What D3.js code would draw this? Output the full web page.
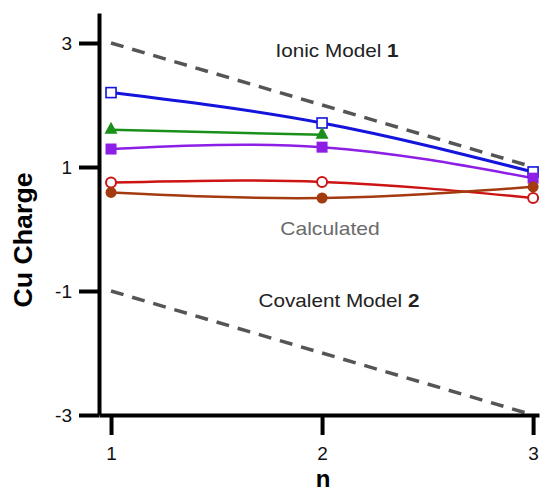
<!DOCTYPE html>
<html>
<head>
<meta charset="utf-8">
<script src="https://cdn.jsdelivr.net/npm/d3@7"></script>
<style>
  body { margin: 0; background: #fff; }
  svg { font-family: "Liberation Sans", Arial, Helvetica, sans-serif; }
</style>
</head>
<body>
<div id="chart"></div>
<script>
// chart values
var nValues = [1, 2, 3];
var blueOpenSq = [2.20, 1.71, 0.92];
var greenTri = [1.60, 1.52, null];
var purpleSq = [1.29, 1.32, 0.82];
var redOpenCirc = [0.75, 0.76, 0.50];
var brownDot = [0.59, 0.50, 0.68];
var ionicModel = [3, 2, 1];
var covalentModel = [-1, -2, -3];
var yTicks = [-3, -1, 1, 3];
var xTicks = [1, 2, 3];

var width = 541, height = 493;

var svg = d3.select("#chart").append("svg")
    .attr("width", width)
    .attr("height", height);

// scales (domain padded so axis lines run past the data)
var x = d3.scaleLinear().domain([0.943, 3.028]).range([99, 539]);
var y = d3.scaleLinear().domain([-3, 3.484]).range([415, 13]);

// model dashed lines
function pts(vals) {
    return nValues.map(function(n, i){ return {n: n, v: vals[i]}; })
        .filter(function(d){ return d.v != null; });
}

var straight = d3.line()
    .x(function(d){ return x(d.n); })
    .y(function(d){ return y(d.v); });

[ionicModel, covalentModel].forEach(function(m) {
    svg.append("path")
        .attr("d", straight(pts(m)))
        .attr("fill", "none")
        .attr("stroke", "#555")
        .attr("stroke-width", 3.5)
        .attr("stroke-dasharray", "13,9");
});

// axes - plain hyphen for negatives like the original
var fmt = function(d){ return String(d); };
var xAxis = svg.append("g")
    .attr("transform", "translate(0," + y(-3) + ")")
    .call(d3.axisBottom(x).tickValues(xTicks).tickSize(20).tickSizeOuter(0).tickPadding(12).tickFormat(fmt));
var yAxis = svg.append("g")
    .attr("transform", "translate(" + x(0.943) + ",0)")
    .call(d3.axisLeft(y).tickValues(yTicks).tickSize(20).tickSizeOuter(0).tickPadding(7).tickFormat(fmt));

[xAxis, yAxis].forEach(function(a) {
    a.select(".domain").attr("stroke", "#000").attr("stroke-width", 4);
    a.selectAll(".tick line").attr("stroke", "#000").attr("stroke-width", 4);
    a.selectAll(".tick text")
        .attr("fill", "#111")
        .style("font-size", "19px")
        .style("font-family", "'Liberation Sans', Arial, sans-serif");
});
yAxis.selectAll(".tick text").attr("dy", "0.36em");

// calculated series
var series = [
    {vals: blueOpenSq, color: "#1414dc", marker: "square", filled: false, lw: 3},
    {vals: greenTri, color: "#1a901a", marker: "triangle", filled: true, lw: 2.5},
    {vals: purpleSq, color: "#8c1ee6", marker: "square", filled: true, lw: 2.5},
    {vals: redOpenCirc, color: "#cc1414", marker: "circle", filled: false, lw: 2.5},
    {vals: brownDot, color: "#a33a10", marker: "circle", filled: true, lw: 2.5}
];

var curve = d3.line()
    .curve(d3.curveNatural)
    .x(function(d){ return x(d.n); })
    .y(function(d){ return y(d.v); });

series.forEach(function(s) {
    svg.append("path")
        .attr("d", curve(pts(s.vals)))
        .attr("fill", "none")
        .attr("stroke", s.color)
        .attr("stroke-width", s.lw);
});

series.forEach(function(s) {
    var g = svg.append("g");
    var data = pts(s.vals);
    if (s.marker == "square") {
        var sz = s.filled ? 11 : 10;
        g.selectAll("rect").data(data).enter().append("rect")
            .attr("x", function(d){ return x(d.n) - sz/2; })
            .attr("y", function(d){ return y(d.v) - sz/2; })
            .attr("width", sz).attr("height", sz)
            .attr("fill", s.filled ? s.color : "#fff")
            .attr("stroke", s.color)
            .attr("stroke-width", s.filled ? 0 : 1.6);
    } else if (s.marker == "circle") {
        g.selectAll("circle").data(data).enter().append("circle")
            .attr("cx", function(d){ return x(d.n); })
            .attr("cy", function(d){ return y(d.v); })
            .attr("r", s.filled ? 5.5 : 5)
            .attr("fill", s.filled ? s.color : "#fff")
            .attr("stroke", s.color)
            .attr("stroke-width", s.filled ? 0 : 2);
    } else {
        g.selectAll("path").data(data).enter().append("path")
            .attr("transform", function(d){ return "translate(" + x(d.n) + "," + (y(d.v) - 1) + ")"; })
            .attr("d", "M0,-7L6.5,5L-6.5,5Z")
            .attr("fill", s.color);
    }
});

// annotations
function label(txt, bold, px, py, size, color, sx) {
    var t = svg.append("text")
        .attr("transform", "translate(" + px + "," + py + ") scale(" + sx + ",1)")
        .attr("text-anchor", "middle")
        .attr("fill", color)
        .style("font-size", size + "px");
    t.append("tspan").text(txt);
    if (bold) t.append("tspan").attr("font-weight", "bold").text(bold);
    return t;
}

label("Ionic Model ", "1", 337, 57, 18, "#222", 1.15);
label("Calculated", null, 330, 235, 18, "#6b6b6b", 1.17);
label("Covalent Model ", "2", 339, 307, 18, "#222", 1.15);

// axis titles
svg.append("text")
    .attr("transform", "translate(323,487)")
    .attr("text-anchor", "middle")
    .attr("font-weight", "bold")
    .style("font-size", "24px")
    .text("n");

svg.append("text")
    .attr("transform", "translate(32,240) rotate(-90) scale(1.07,1)")
    .attr("text-anchor", "middle")
    .attr("font-weight", "bold")
    .style("font-size", "25px")
    .text("Cu Charge");
</script>
</body>
</html>
